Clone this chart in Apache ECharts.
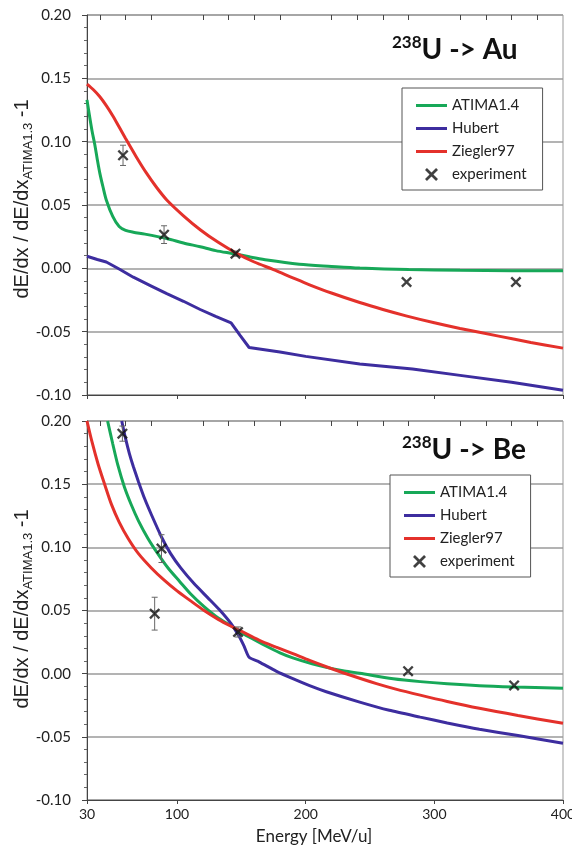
<!DOCTYPE html>
<html>
<head>
<meta charset="utf-8">
<style>
  html, body { margin: 0; padding: 0; background: #fff; }
  #main { width: 572px; height: 848px; }
</style>
<script src="https://cdn.jsdelivr.net/npm/echarts@6/dist/echarts.min.js"></script>
</head>
<body>
<div id="main"></div>
<script>
// ---- data: [energy MeV/u, value] ----
// 238U -> Au
const atimaAu = [[30, 0.133], [32, 0.12], [34, 0.108], [36, 0.098], [38, 0.086], [40, 0.075], [42.5, 0.064], [45, 0.054], [50, 0.041], [55, 0.033], [60, 0.030], [66, 0.0285], [75, 0.027], [92, 0.0235], [105, 0.020], [118, 0.017], [130, 0.014], [144, 0.0115], [157, 0.009], [170, 0.0065], [195, 0.0032], [220, 0.0015], [242, 0.0002], [280, -0.001], [320, -0.0016], [360, -0.0019], [400, -0.002]];
const hubertAu = [[30, 0.0095], [38, 0.007], [45, 0.005], [55, -0.0005], [66, -0.007], [80, -0.014], [92, -0.020], [105, -0.026], [118, -0.0325], [130, -0.038], [142, -0.043], [149, -0.053], [156, -0.0625], [180, -0.066], [200, -0.0695], [242, -0.0755], [283, -0.0795], [320, -0.0845], [360, -0.090], [400, -0.0963]];
const zieglerAu = [[30, 0.1455], [35, 0.141], [40, 0.1355], [45, 0.1285], [50, 0.1205], [55, 0.1115], [60, 0.1025], [68, 0.0885], [76, 0.0755], [84, 0.064], [92, 0.054], [105, 0.0415], [118, 0.0305], [132, 0.0205], [146, 0.012], [160, 0.005], [175, -0.001], [190, -0.0075], [203, -0.013], [220, -0.0195], [242, -0.027], [260, -0.0325], [278, -0.0375], [300, -0.043], [320, -0.0475], [350, -0.0535], [375, -0.0585], [400, -0.063]];
const expAu = [[58, 0.0892], [89.9, 0.0266], [145.4, 0.0116], [278.4, -0.0108], [363.4, -0.0108]];
const errAu = [0.008, 0.007, 0.002, 0, 0];

// 238U -> Be
const atimaBe = [[46, 0.20], [50, 0.182], [54, 0.165], [59, 0.148], [64.5, 0.1335], [70, 0.121], [77.4, 0.107], [85, 0.095], [93, 0.0836], [102, 0.073], [111, 0.0626], [121, 0.053], [132, 0.044], [145, 0.036], [150, 0.0325], [157, 0.0285], [168, 0.0225], [180, 0.0165], [190, 0.0125], [205, 0.0078], [216, 0.005], [230, 0.0022], [242, 0.0003], [268, -0.004], [289, -0.0063], [310, -0.008], [335, -0.0095], [362, -0.0105], [400, -0.0116]];
const hubertBe = [[57, 0.200], [60, 0.186], [63, 0.174], [66, 0.164], [70, 0.152], [75, 0.138], [80, 0.126], [88, 0.108], [95, 0.095], [103, 0.0835], [113, 0.0715], [124, 0.060], [133, 0.0505], [142, 0.0395], [148, 0.030], [152, 0.022], [156, 0.013], [164, 0.0092], [177, 0.002], [190, -0.004], [203, -0.0095], [216, -0.0143], [242, -0.0225], [265, -0.029], [289, -0.0344], [310, -0.039], [335, -0.044], [365, -0.049], [400, -0.055]];
const zieglerBe = [[30, 0.20], [34, 0.183], [38.6, 0.166], [44, 0.149], [49, 0.134], [55, 0.12], [62, 0.107], [70, 0.095], [80, 0.0837], [90, 0.074], [100, 0.0655], [110, 0.058], [121, 0.050], [132, 0.043], [142, 0.0375], [149, 0.034], [164, 0.0264], [177, 0.021], [190, 0.0158], [203, 0.0105], [216, 0.0055], [232, -0.0003], [255, -0.0079], [270, -0.0122], [289, -0.017], [310, -0.022], [335, -0.0274], [365, -0.0331], [400, -0.0393]];
const expBe = [[57.5, 0.190], [87.9, 0.099], [82.6, 0.0475], [147.4, 0.033], [279.6, 0.002], [362, -0.0093]];
const errBe = [0.006, 0.011, 0.013, 0.004, 0, 0];

const xMajor = [30, 100, 200, 300, 400];
const xMinor = [40, 60, 80, 120, 140, 160, 180, 220, 240, 260, 280, 320, 340, 360, 380];
const seriesNames = ['ATIMA1.4', 'Hubert', 'Ziegler97', 'experiment'];

const GREEN = '#17a858';
const BLUE = '#3d2d9f';
const RED = '#e4312b';
const crossPath = 'path://M0,1.5L1.5,0L5,3.5L8.5,0L10,1.5L6.5,5L10,8.5L8.5,10L5,6.5L1.5,10L0,8.5L3.5,5Z';
const linePath = 'path://M0,0L31,0L31,3L0,3Z';
const calibri = 'Lato, "Open Sans", sans-serif';
const arial = '"Liberation Sans", Arial, sans-serif';

const chart = echarts.init(document.getElementById('main'), null, { renderer: 'canvas' });

function errRows(points, errs) {
  return points.map((p, i) => [p[0], p[1] - errs[i], p[1] + errs[i]]);
}

function renderErr(params, api) {
  const x = api.value(0);
  const lo = api.coord([x, api.value(1)]);
  const hi = api.coord([x, api.value(2)]);
  if (Math.abs(lo[1] - hi[1]) < 1) return null;
  const w = 3;
  const st = { stroke: '#666', lineWidth: 1 };
  return {
    type: 'group',
    children: [
      { type: 'line', shape: { x1: lo[0], y1: lo[1], x2: hi[0], y2: hi[1] }, style: st },
      { type: 'line', shape: { x1: lo[0] - w, y1: lo[1], x2: lo[0] + w, y2: lo[1] }, style: st },
      { type: 'line', shape: { x1: hi[0] - w, y1: hi[1], x2: hi[0] + w, y2: hi[1] }, style: st }
    ]
  };
}

function xAxes(gi, showLabel) {
  return [{
    type: 'value', gridIndex: gi, min: 30, max: 400,
    name: showLabel ? 'Energy [MeV/u]' : '',
    nameLocation: 'middle', nameGap: 28,
    nameTextStyle: { fontFamily: calibri, fontSize: 17, color: '#222', padding: [0, 22, 0, 0] },
    axisLine: { show: true, onZero: false, lineStyle: { color: '#444', width: 1 } },
    axisTick: { show: true, inside: false, length: 4, customValues: xMajor, lineStyle: { color: '#444' } },
    axisLabel: { show: showLabel, customValues: xMajor, fontFamily: calibri, fontSize: 14, color: '#222', margin: 7 },
    splitLine: { show: false }
  }, {
    type: 'value', gridIndex: gi, min: 30, max: 400,
    axisLine: { show: false, onZero: false },
    axisTick: { show: true, inside: true, length: 5, customValues: xMinor, lineStyle: { color: '#444' } },
    axisLabel: { show: false },
    splitLine: { show: false }
  }];
}

function yAxis(gi) {
  return {
    type: 'value', gridIndex: gi, min: -0.1, max: 0.2, interval: 0.05,
    axisLine: { show: true, lineStyle: { color: '#444', width: 1 } },
    axisTick: { show: true, inside: false, length: 5, lineStyle: { color: '#444' } },
    minorTick: { show: true, splitNumber: 5, length: 3, lineStyle: { color: '#666' } },
    axisLabel: {
      fontFamily: calibri, fontSize: 15, color: '#222', margin: 16,
      formatter: v => v.toFixed(2)
    },
    splitLine: { show: true, lineStyle: { color: '#9a9a9a', width: 1.5 } }
  };
}

// rotated y-axis caption with the ATIMA1.3 subscript
function yName(cx, cy) {
  return {
    type: 'text', x: cx, y: cy, rotation: Math.PI / 2,
    style: {
      text: '{a|dE/dx / dE/dx}{s|ATIMA1.3}{a| -1}',
      align: 'center', verticalAlign: 'middle',
      rich: {
        a: { fontFamily: arial, fontSize: 20, fill: '#222', lineHeight: 26, verticalAlign: 'middle' },
        s: { fontFamily: arial, fontSize: 13, fill: '#222', lineHeight: 13, verticalAlign: 'bottom' }
      }
    }
  };
}

function panelSeries(gi, atima, hubert, ziegler, exp, err) {
  const ax = { xAxisIndex: gi * 2, yAxisIndex: gi };
  const line = (name, data, color, smooth) => Object.assign({
    name, type: 'line', data, symbol: 'none', smooth,
    lineStyle: { color, width: 3 }, itemStyle: { color }, z: 3
  }, ax);
  return [
    line('ATIMA1.4', atima, GREEN, 0.3),
    line('Hubert', hubert, BLUE, gi === 1 ? 0.2 : false),
    line('Ziegler97', ziegler, RED, 0.3),
    Object.assign({
      name: 'err', type: 'custom', renderItem: renderErr,
      data: errRows(exp, err), encode: { x: 0, y: [1, 2] }, z: 4, silent: true
    }, ax),
    Object.assign({
      name: 'experiment', type: 'scatter', data: exp,
      symbol: crossPath, symbolSize: 11, symbolKeepAspect: true,
      itemStyle: { color: '#111' }, z: 5
    }, ax)
  ];
}

function legend(left, top) {
  return {
    data: seriesNames.map(n => ({ name: n, icon: n === 'experiment' ? crossPath : linePath })),
    orient: 'vertical', left, top,
    backgroundColor: '#fff', borderColor: '#555', borderWidth: 1,
    padding: [10, 16, 8, 14], itemGap: 8, itemWidth: 31, itemHeight: 13,
    textStyle: { fontFamily: calibri, fontSize: 15, color: '#222' },
    selectedMode: false
  };
}

function title(text, left, top) {
  return {
    text, left, top, padding: 0,
    textStyle: {
      rich: {
        s: { fontFamily: calibri, fontSize: 17, fontWeight: 'bold', color: '#111', verticalAlign: 'top', lineHeight: 17 },
        m: { fontFamily: calibri, fontSize: 28, fontWeight: 'bold', color: '#111', lineHeight: 32 }
      }
    }
  };
}

const option = {
  animation: false,
  backgroundColor: '#fff',
  title: [
    title('{s|238}{m|U -> Au}', 392, 34),
    title('{s|238}{m|U -> Be}', 402, 434)
  ],
  legend: [legend(402, 88), legend(390, 475)],
  grid: [
    { left: 87, top: 15, width: 476, height: 380, show: true, borderColor: '#999', borderWidth: 1, outerBoundsMode: 'none' },
    { left: 87, top: 421, width: 476, height: 379, show: true, borderColor: '#999', borderWidth: 1, outerBoundsMode: 'none' }
  ],
  graphic: [yName(22, 199), yName(22, 609)],
  xAxis: xAxes(0, false).concat(xAxes(1, true)),
  yAxis: [yAxis(0), yAxis(1)],
  series: panelSeries(0, atimaAu, hubertAu, zieglerAu, expAu, errAu)
    .concat(panelSeries(1, atimaBe, hubertBe, zieglerBe, expBe, errBe))
};

chart.setOption(option);
</script>
</body>
</html>
